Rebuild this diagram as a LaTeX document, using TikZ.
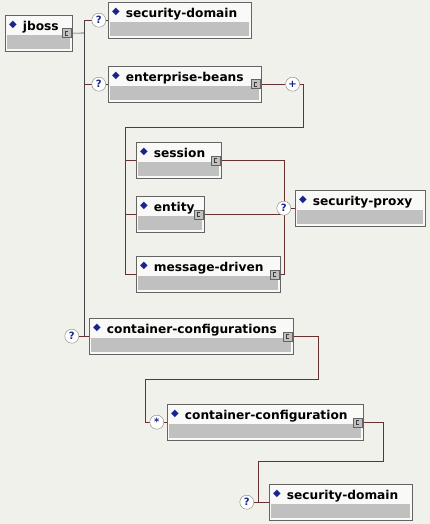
\documentclass[tikz,border=0pt]{standalone}
\usepackage{fontspec}
\setmainfont{DejaVu Sans}
\usetikzlibrary{positioning,backgrounds}

\definecolor{bgcol}{RGB}{241,241,235}
\definecolor{boxgray}{RGB}{192,192,192}
\definecolor{edgegray}{RGB}{100,100,100}
\definecolor{dmblue}{RGB}{24,36,140}
\definecolor{linkred}{RGB}{104,48,48}
\definecolor{busgray}{RGB}{66,66,74}
\newcommand{\dm}{\raisebox{2.5pt}{\fontsize{10}{10}\selectfont\textcolor{dmblue}{◆}}}
\newcommand{\elname}[1]{\hspace{1pt}\dm\hspace{6pt}\mbox{#1}}

\begin{document}
\begin{tikzpicture}[x=1pt,y=-1pt,
  elem/.style={draw=edgegray, fill=bgcol!40!white, anchor=north west,
    inner xsep=3pt, inner ysep=4pt, text height=11pt, text depth=17pt,
    text width=#1pt-6pt, align=left, font=\fontsize{12.2}{12}\selectfont\bfseries,
    path picture={\fill[boxgray] ([xshift=2pt,yshift=2pt]path picture bounding box.south west)
      rectangle ([xshift=-2pt,yshift=16pt]path picture bounding box.south east);}},
  icon/.style={draw=edgegray, fill=boxgray, minimum size=9pt, inner sep=0pt,
    path picture={\draw[edgegray!60!black, line width=.5pt]
      ([xshift=6pt,yshift=-2.5pt]path picture bounding box.north west)
      -- ([xshift=3pt,yshift=-2.5pt]path picture bounding box.north west)
      -- ([xshift=3pt,yshift=2.5pt]path picture bounding box.south west)
      -- ([xshift=6pt,yshift=2.5pt]path picture bounding box.south west);}},
  ques/.style={circle, draw=gray, fill=white, minimum size=14pt, inner sep=0pt,
    text=dmblue, font=\fontsize{10}{10}\selectfont\bfseries},
  link/.style={draw=linkred, line width=.6pt},
  bus/.style={draw=busgray, line width=.6pt}]
  \useasboundingbox (0,0) rectangle (430,524);

  \node[elem=67] (jboss) at (5,15) {\elname{jboss}};
  \node[icon, left=1pt of jboss.east] (jbossic) {};
  \node[elem=143] (secdom) at (108,2) {\elname{security-domain}};
  \node[ques, left=2pt of secdom] (q1) {?};
  \node[elem=153] (ebeans) at (108,66) {\elname{enterprise-beans}};
  \node[icon, left=1pt of ebeans.east] (ebeansic) {};
  \node[ques, left=2pt of ebeans] (q2) {?};
  \node[ques, right=25pt of ebeansic] (plus) {+};

  \node[elem=85] (session) at (136,142) {\elname{session}};
  \node[icon, left=1pt of session.east] (sessionic) {};
  \node[elem=68] (entity) at (136,196) {\elname{entity}};
  \node[icon, left=1pt of entity.east] (entityic) {};
  \node[elem=144] (mdriven) at (136,256) {\elname{message-driven}};
  \node[icon, left=1pt of mdriven.east] (mdrivenic) {};
  \node[elem=130] (secproxy) at (295,190) {\elname{security-proxy}};
  \node[ques, left=4pt of secproxy] (qp) {?};

  \node[elem=204] (ccfgs) at (89,318) {\elname{container-configurations}};
  \node[icon, left=1pt of ccfgs.east] (ccfgsic) {};
  \node[ques, left=10pt of ccfgs] (q3) {?};
  \node[elem=196] (ccfg) at (167,404) {\elname{container-configuration}};
  \node[icon, left=1pt of ccfg.east] (ccfgic) {};
  \node[ques, left=3pt of ccfg] (qstar) {*};
  \node[elem=143] (secdom2) at (269,484) {\elname{security-domain}};
  \node[ques, left=15pt of secdom2] (q5) {?};

  \coordinate (jbsplit) at (84,33);
  \coordinate (ebturn) at (303,127);
  \coordinate (ebbus) at (125,127);
  \coordinate (ccturn) at (318,379);
  \coordinate (ccbus) at (145,379);
  \coordinate (csturn) at (383,461);
  \coordinate (csbus) at (258,461);

  \begin{scope}[on background layer]
    \fill[bgcol] (0,0) rectangle (430,524);
    \draw[link] (jbossic.east) -- (jbsplit);
    \draw[link] (q1) -- (jbsplit |- q1);
    \draw[bus] (jbsplit |- q1) -- (jbsplit |- ccfgs.west);
    \draw[link] (q1) -- (secdom.west);
    \draw[link] (q2) -- (jbsplit |- q2);
    \draw[link] (q2) -- (ebeans.west);
    \draw[link] (q3) -- (ccfgs.west);

    \draw[link] (ebeansic.east) -- (plus);
    \draw[link] (plus) -| (ebturn) -- (ebbus);
    \draw[bus] (ebbus) -- (ebbus |- mdriven.west);
    \draw[link] (session.west) -- (ebbus |- session.west);
    \draw[link] (entity.west) -- (ebbus |- entity.west);
    \draw[link] (mdriven.west) -- (ebbus |- mdriven.west);
    \draw[link] (sessionic.east) -| (qp);
    \draw[link] (entityic.east) -- (qp |- entityic.east);
    \draw[link] (mdrivenic.east) -| (qp);
    \draw[link] (qp) -- (secproxy.west);

    \draw[link] (ccfgsic.east) -| (ccturn) -- (ccbus) |- (qstar);
    \draw[link] (qstar) -- (ccfg.west);
    \draw[link] (ccfgic.east) -| (csturn) -- (csbus) |- (q5);
    \draw[link] (q5) -- (secdom2.west);
  \end{scope}
\end{tikzpicture}
\end{document}
